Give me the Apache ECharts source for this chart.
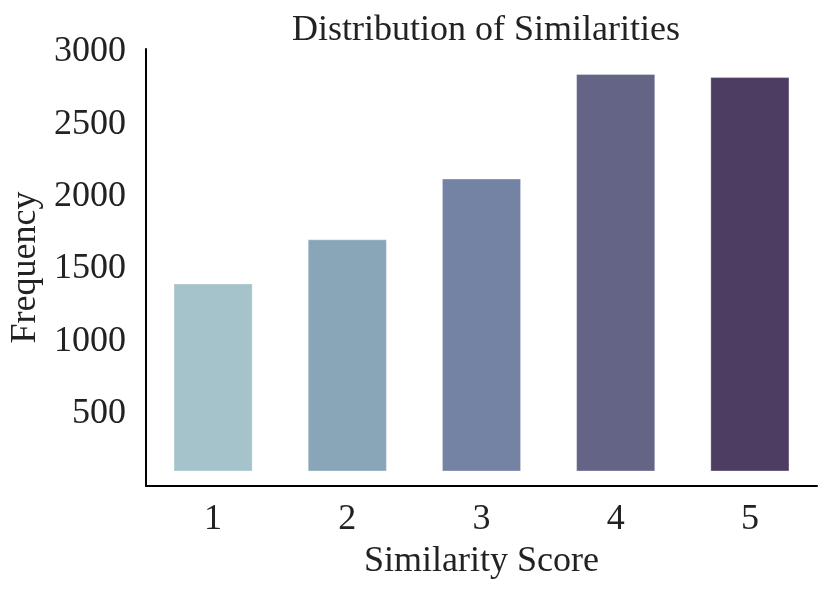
<!DOCTYPE html>
<html>
<head>
<meta charset="utf-8">
<script src="https://cdn.jsdelivr.net/npm/echarts@6/dist/echarts.min.js"></script>
<style>
  html, body { margin: 0; padding: 0; background: #fff; }
  #chart { width: 830px; height: 593px; }
</style>
</head>
<body>
<div id="chart"></div>
<script>
const scores = ['1', '2', '3', '4', '5']
const frequency = [1400, 1705, 2125, 2848, 2826]
const barBase = 100
const barColors = ['#a4c3ca', '#89a5b8', '#7483a4', '#646487', '#4e3d62']

const font = 'Liberation Serif'
const chart = echarts.init(document.getElementById('chart'))

const option = {
    animation: false,
    title: {
        text: 'Distribution of Similarities',
        left: 481,
        textAlign: 'center',
        top: 8,
        textStyle: { fontFamily: font, fontSize: 36, fontWeight: 'normal', color: '#222' }
    },
    grid: { left: 146, right: 13, top: 49, bottom: 107, outerBoundsMode: 'none', containLabel: false },
    xAxis: {
        type: 'category',
        data: scores,
        name: 'Similarity Score',
        nameLocation: 'middle',
        nameGap: 58,
        nameTextStyle: { fontFamily: font, fontSize: 36, color: '#222' },
        axisLine: { lineStyle: { color: '#000', width: 2 } },
        axisTick: { show: false },
        axisLabel: { fontFamily: font, fontSize: 36, color: '#222', margin: 16 }
    },
    yAxis: {
        type: 'value',
        min: 0,
        max: 3020,
        interval: 500,
        name: 'Frequency',
        nameLocation: 'middle',
        nameGap: 100,
        nameTextStyle: { fontFamily: font, fontSize: 36, color: '#222' },
        splitLine: { show: false },
        axisLine: { show: true, lineStyle: { color: '#000', width: 2 } },
        axisTick: { show: false },
        axisLabel: {
            fontFamily: font, fontSize: 36, color: '#222', margin: 20,
            formatter: v => (v > 0 && v % 500 === 0) ? String(v) : ''
        }
    },
    series: [
        {
            type: 'bar',
            stack: 'f',
            data: scores.map(() => barBase),
            itemStyle: { color: 'transparent' },
            barWidth: '59%',
            silent: true
        },
        {
            type: 'bar',
            stack: 'f',
            barWidth: '59%',
            data: frequency.map((v, i) => ({
                value: v - barBase,
                itemStyle: { color: barColors[i], borderColor: 'rgba(255,255,255,0.35)', borderWidth: 1 }
            }))
        }
    ]
}
chart.setOption(option)
</script>
</body>
</html>
